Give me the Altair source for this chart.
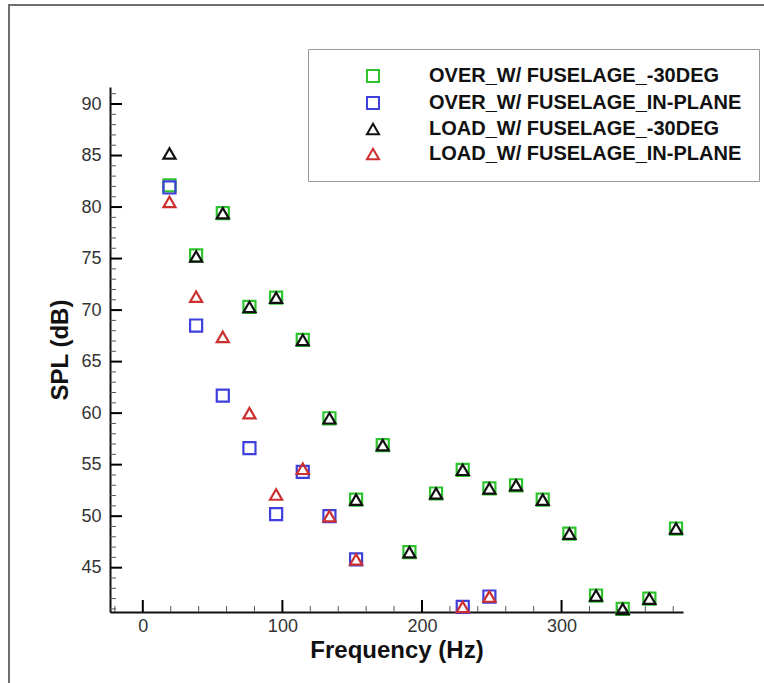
import altair as alt
import pandas as pd

# ---- data ----
freq = [19.1, 38.2, 57.3, 76.4, 95.5, 114.6, 133.7, 152.8, 171.9, 191.0,
        210.1, 229.2, 248.3, 267.4, 286.5, 305.6, 324.7, 343.8, 362.9, 382.0]
over_m30 = [82.1, 75.3, 79.4, 70.3, 71.2, 67.1, 59.5, 51.6, 56.9, 46.5,
            52.2, 54.5, 52.7, 53.0, 51.6, 48.3, 42.3, 41.0, 42.0, 48.8]
over_inplane = [81.9, 68.5, 61.7, 56.6, 50.2, 54.3, 50.0, 45.8, None, None,
                None, 41.2, 42.2, None, None, None, None, None, None, None]
load_m30 = [85.2, 75.2, 79.4, 70.3, 71.2, 67.1, 59.5, 51.6, 56.9, 46.5,
            52.2, 54.5, 52.7, 53.0, 51.6, 48.3, 42.3, 41.0, 42.0, 48.8]
load_inplane = [80.5, 71.3, 67.4, 60.0, 52.1, 54.6, 50.0, 45.8, None, None,
                None, 41.2, 42.2, None, None, None, None, None, None, None]

series_names = ["OVER_W/ FUSELAGE_-30DEG", "OVER_W/ FUSELAGE_IN-PLANE",
                "LOAD_W/ FUSELAGE_-30DEG", "LOAD_W/ FUSELAGE_IN-PLANE"]
series_values = [over_m30, over_inplane, load_m30, load_inplane]
series_colors = ["#2fc42f", "#3f3fdc", "#111111", "#cc2f2f"]
series_shapes = ["square", "square", "triangle-up", "triangle-up"]
series_sizes = [145, 145, 220, 220]

x_major = [0, 100, 200, 300]
x_minor = [-20, 20, 40, 60, 80, 120, 140, 160, 180, 220, 240, 260, 280,
           320, 340, 360, 380]
y_major = [45, 50, 55, 60, 65, 70, 75, 80, 85, 90]
y_minor = [v for v in range(41, 92) if v % 5 != 0]

rows = []
for name, vals in zip(series_names, series_values):
    for f, v in zip(freq, vals):
        if v is not None:
            rows.append({"freq": f, "spl": v, "series": name})
df = pd.DataFrame(rows)

W, H = 573, 525
FONT = "Liberation Sans"

xs = alt.Scale(domain=[-23.5, 387], nice=False, zero=False)
ys = alt.Scale(domain=[40.7, 91.65], nice=False, zero=False)

x_axis = alt.Axis(title="Frequency (Hz)", values=x_major, grid=False, ticks=False,
                  tickSize=0, labelPadding=5, titlePadding=3, format="d")
y_axis = alt.Axis(title="SPL (dB)", values=y_major, grid=False, ticks=False,
                  tickSize=0, labelPadding=9, titlePadding=8, format="d")

legend = alt.Legend(title=None, orient="none", legendX=198, legendY=-38,
                    fillColor="white", strokeColor="#9a9a9a", padding=17,
                    symbolOffset=38, labelOffset=46, rowPadding=5,
                    labelFont=FONT, labelFontSize=20, labelFontWeight="bold",
                    labelColor="#111111", labelLimit=600, symbolSize=150,
                    symbolStrokeWidth=2, cornerRadius=0)

points = alt.Chart(df).mark_point(filled=False, strokeWidth=2.2, opacity=1).encode(
    x=alt.X("freq:Q", scale=xs, axis=x_axis),
    y=alt.Y("spl:Q", scale=ys, axis=y_axis),
    color=alt.Color("series:N", scale=alt.Scale(domain=series_names, range=series_colors),
                    legend=legend),
    shape=alt.Shape("series:N", scale=alt.Scale(domain=series_names, range=series_shapes),
                    legend=legend),
    size=alt.Size("series:N", scale=alt.Scale(domain=series_names, range=series_sizes),
                  legend=None),
)

xmaj = alt.Chart(pd.DataFrame({"t": x_major})).mark_rule(color="black", strokeWidth=2).encode(
    x=alt.X("t:Q", scale=xs, axis=x_axis), y=alt.value(H), y2=alt.value(H - 12))
xmin = alt.Chart(pd.DataFrame({"t": x_minor})).mark_rule(color="#555555", strokeWidth=1).encode(
    x=alt.X("t:Q", scale=xs, axis=x_axis), y=alt.value(H), y2=alt.value(H - 6))
ymaj = alt.Chart(pd.DataFrame({"t": y_major})).mark_rule(color="black", strokeWidth=2).encode(
    y=alt.Y("t:Q", scale=ys, axis=y_axis), x=alt.value(0), x2=alt.value(12))
ymin = alt.Chart(pd.DataFrame({"t": y_minor})).mark_rule(color="#555555", strokeWidth=1).encode(
    y=alt.Y("t:Q", scale=ys, axis=y_axis), x=alt.value(0), x2=alt.value(6))

frame = alt.Chart(pd.DataFrame({"a": [0]})).mark_rect(
    fillOpacity=0, stroke="#6f6f6f", strokeWidth=2).encode(
    x=alt.value(-101), x2=alt.value(720), y=alt.value(-82), y2=alt.value(660))

chart = alt.layer(frame, xmin, xmaj, ymin, ymaj, points).properties(
    width=W, height=H,
    padding={"left": 110, "top": 87, "right": 81, "bottom": 71},
    autosize=alt.AutoSizeParams(type="none"),
    background="white",
).configure_view(stroke=None).configure_axis(
    labelFont=FONT, labelFontSize=18, labelColor="#333333",
    titleFont=FONT, titleFontSize=24, titleFontWeight="bold", titleColor="#111111",
    domainColor="#111111", domainWidth=2,
)

chart.save("out.html", embed_options={"renderer": "svg", "actions": False})
